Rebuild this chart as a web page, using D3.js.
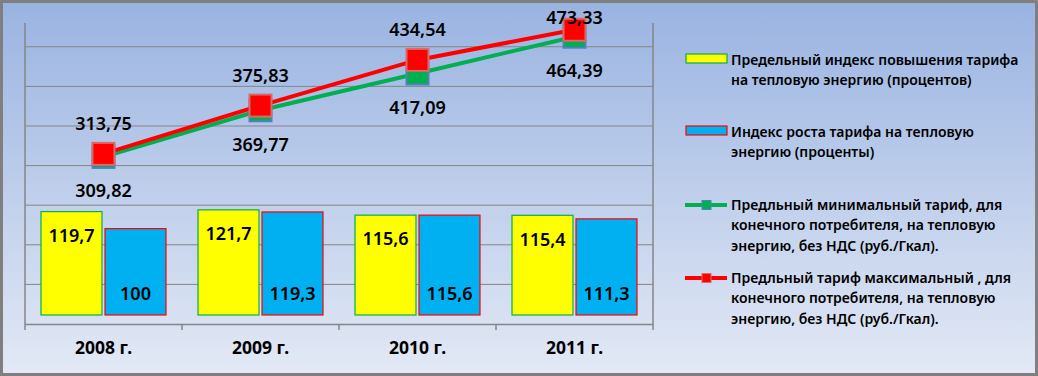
<!DOCTYPE html>
<html>
<head>
<meta charset="utf-8">
<script src="https://cdn.jsdelivr.net/npm/d3@7"></script>
<style>
  body { margin: 0; background: #fff; }
  text { font-family: "Noto Sans", "DejaVu Sans", sans-serif; fill: #000; }
</style>
</head>
<body>
<div id="chart"></div>
<script>
// data
var years = ['2008 г.', '2009 г.', '2010 г.', '2011 г.']
var limitIndex = [119.7, 121.7, 115.6, 115.4]      // yellow bars
var growthIndex = [100, 119.3, 115.6, 111.3]       // blue bars
var minTariff = [309.82, 369.77, 417.09, 464.39]   // green line
var maxTariff = [313.75, 375.83, 434.54, 473.33]   // red line
var legendLabels = [
  ['Предельный индекс повышения тарифа', 'на тепловую энергию (процентов)'],
  ['Индекс роста тарифа на тепловую', 'энергию (проценты)'],
  ['Предльный минимальный тариф, для', 'конечного потребителя, на тепловую', 'энергию, без НДС (руб./Гкал).'],
  ['Предльный тариф максимальный , для', 'конечного потребителя, на тепловую', 'энергию, без НДС (руб./Гкал).']
]

var width = 1038, height = 376
var plot = { left: 25, right: 653, top: 23, bottom: 324 }
var fmt = v => String(v).replace('.', ',')

var svg = d3.select('#chart')
  .append('svg')
  .attr('width', width)
  .attr('height', height)

var grad = svg.append('defs').append('linearGradient')
  .attr('id', 'bg').attr('x1', 0).attr('y1', 0).attr('x2', 0).attr('y2', 1)
grad.append('stop').attr('offset', 0).attr('stop-color', '#99b3e1')
grad.append('stop').attr('offset', 1).attr('stop-color', '#e3e9f5')

svg.append('rect')
  .attr('x', 1.5).attr('y', 1.5)
  .attr('width', width - 3).attr('height', height - 3)
  .attr('fill', 'url(#bg)')
  .attr('stroke', '#7f7f7f')
  .attr('stroke-width', 3)

// scales
var x = d3.scaleBand()
  .domain(years)
  .range([plot.left, plot.right])

var xi = d3.scaleBand()
  .domain([0, 1])
  .range([0, x.bandwidth()])
  .paddingInner(0.047)
  .paddingOuter(0.25)

var yGrid = d3.scaleLinear().domain([0, 380]).range([plot.bottom, plot.top])
var yBar = d3.scaleLinear().domain([0, 338]).range([315, plot.top])
var yLine = d3.scaleLinear().domain([95, 482]).range([plot.bottom, plot.top])

// gridlines
svg.append('g')
  .selectAll('line')
  .data(d3.range(50, 351, 50))
  .join('line')
  .attr('x1', plot.left).attr('x2', plot.right)
  .attr('y1', d => yGrid(d)).attr('y2', d => yGrid(d))
  .attr('stroke', '#868686')
  .attr('stroke-width', 1)

// vertical axis lines
svg.append('g')
  .selectAll('line')
  .data([plot.left, plot.right])
  .join('line')
  .attr('x1', d => d).attr('x2', d => d)
  .attr('y1', plot.top).attr('y2', plot.bottom)
  .attr('stroke', '#868686')
  .attr('stroke-width', 1.5)

// bars
var bars = svg.append('g')
bars.selectAll('rect.limit')
  .data(limitIndex)
  .join('rect')
  .attr('class', 'limit')
  .attr('x', (d, i) => x(years[i]) + xi(0))
  .attr('y', d => yBar(d))
  .attr('width', xi.bandwidth())
  .attr('height', d => yBar(0) - yBar(d))
  .attr('fill', '#ffff00')
  .attr('stroke', '#00b050')
  .attr('stroke-width', 1.2)

bars.selectAll('rect.growth')
  .data(growthIndex)
  .join('rect')
  .attr('class', 'growth')
  .attr('x', (d, i) => x(years[i]) + xi(1))
  .attr('y', d => yBar(d))
  .attr('width', xi.bandwidth())
  .attr('height', d => yBar(0) - yBar(d))
  .attr('fill', '#00b0f0')
  .attr('stroke', '#ff0000')
  .attr('stroke-width', 1.2)

// bar labels
bars.selectAll('text.limit')
  .data(limitIndex)
  .join('text')
  .attr('x', (d, i) => x(years[i]) + xi(0) + xi.bandwidth() / 2)
  .attr('y', d => yBar(d) + 24)
  .attr('dy', '0.35em')
  .attr('text-anchor', 'middle')
  .attr('font-size', '18px')
  .attr('font-weight', 600)
  .text(fmt)

bars.selectAll('text.growth')
  .data(growthIndex)
  .join('text')
  .attr('x', (d, i) => x(years[i]) + xi(1) + xi.bandwidth() / 2)
  .attr('y', d => yBar(0) - 21)
  .attr('dy', '0.35em')
  .attr('text-anchor', 'middle')
  .attr('font-size', '18px')
  .attr('font-weight', 600)
  .text(fmt)

// x axis
var cx = d => x(d) + x.bandwidth() / 2
svg.append('g')
  .attr('transform', `translate(0, ${plot.bottom})`)
  .call(d3.axisBottom(x).tickSize(0).tickPadding(18))
  .call(g => g.select('.domain').attr('stroke', '#868686').attr('stroke-width', 1.5))
  .call(g => g.selectAll('text')
    .attr('font-size', '17.5px')
    .attr('font-weight', 'bold')
    .attr('font-family', '"Noto Sans", sans-serif')
    .attr('fill', '#000'))

svg.append('g')
  .selectAll('line')
  .data(years.map(d => x(d)).concat([plot.right]))
  .join('line')
  .attr('x1', d => d).attr('x2', d => d)
  .attr('y1', plot.bottom).attr('y2', plot.bottom + 6)
  .attr('stroke', '#868686')
  .attr('stroke-width', 1.5)

// lines
var line = d3.line()
  .x((d, i) => cx(years[i]))
  .y(d => yLine(d))

function drawSeries(values, color, edge) {
  var g = svg.append('g')
  g.append('path')
    .datum(values)
    .attr('d', line)
    .attr('fill', 'none')
    .attr('stroke', color)
    .attr('stroke-width', 4)
  g.selectAll('rect')
    .data(values)
    .join('rect')
    .attr('x', (d, i) => cx(years[i]) - 11)
    .attr('y', d => yLine(d) - 11)
    .attr('width', 22)
    .attr('height', 22)
    .attr('fill', color)
    .attr('stroke', edge)
    .attr('stroke-width', 2)
}
drawSeries(minTariff, '#00b050', '#4f81bd')
drawSeries(maxTariff, '#ff0000', '#d86a6a')

// line labels
svg.append('g')
  .selectAll('text')
  .data(maxTariff)
  .join('text')
  .attr('x', (d, i) => cx(years[i]))
  .attr('y', d => Math.max(yLine(d) - 30, 18))
  .attr('dy', '0.35em')
  .attr('text-anchor', 'middle')
  .attr('font-size', '18px')
  .attr('font-weight', 600)
  .text(fmt)

svg.append('g')
  .selectAll('text')
  .data(minTariff)
  .join('text')
  .attr('x', (d, i) => cx(years[i]))
  .attr('y', d => yLine(d) + 34)
  .attr('dy', '0.35em')
  .attr('text-anchor', 'middle')
  .attr('font-size', '18px')
  .attr('font-weight', 600)
  .text(fmt)

// legend
var legendTop = [60, 132, 205, 278]
var lineH = 20.3
var legend = svg.append('g')

legendLabels.forEach((lines, k) => {
  var g = legend.append('g').attr('transform', `translate(0, ${legendTop[k]})`)
  if (k < 2) {
    g.append('rect')
      .attr('x', 686).attr('y', -6)
      .attr('width', 41).attr('height', 9)
      .attr('fill', k == 0 ? '#ffff00' : '#00b0f0')
      .attr('stroke', k == 0 ? '#00b050' : '#ff0000')
      .attr('stroke-width', 1.2)
  } else {
    var c = k == 2 ? '#00b050' : '#ff0000'
    g.append('line')
      .attr('x1', 685).attr('x2', 727)
      .attr('y1', 0).attr('y2', 0)
      .attr('stroke', c).attr('stroke-width', 4)
    g.append('rect')
      .attr('x', 702).attr('y', -4.5)
      .attr('width', 9).attr('height', 9)
      .attr('fill', c)
      .attr('stroke', k == 2 ? '#4f81bd' : '#d86a6a')
      .attr('stroke-width', 1)
  }
  g.selectAll('text')
    .data(lines)
    .join('text')
    .attr('x', 731)
    .attr('y', (d, i) => i * lineH)
    .attr('dy', '0.35em')
    .attr('font-size', '14px')
    .attr('font-weight', 600)
    .text(d => d)
})
</script>
</body>
</html>
